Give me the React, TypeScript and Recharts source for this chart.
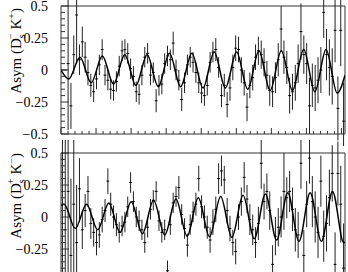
import React from 'react';
import { ComposedChart, Scatter, Line, XAxis, YAxis, ErrorBar, ReferenceArea } from 'recharts';

// ---------- axis definitions ----------
const N_BINS = 100;
const BIN_WIDTH = 0.0405;
const T_MAX = 4.05;
const binCenters = Array.from({ length: N_BINS }, (_, i) => +((i + 0.5) * BIN_WIDTH).toFixed(4));

const xTicks = [0, 0.1, 0.2, 0.3, 0.4, 0.5, 0.6, 0.7, 0.8, 0.9, 1.0, 1.1, 1.2, 1.3, 1.4, 1.5, 1.6, 1.7, 1.8, 1.9, 2.0,
  2.1, 2.2, 2.3, 2.4, 2.5, 2.6, 2.7, 2.8, 2.9, 3.0, 3.1, 3.2, 3.3, 3.4, 3.5, 3.6, 3.7, 3.8, 3.9, 4.0];
const xMajorTicks = [0, 0.5, 1.0, 1.5, 2.0, 2.5, 3.0, 3.5, 4.0];
const yTicks = [-0.5, -0.45, -0.4, -0.35, -0.3, -0.25, -0.2, -0.15, -0.1, -0.05, 0, 0.05, 0.1, 0.15, 0.2, 0.25, 0.3, 0.35, 0.4, 0.45, 0.5];
const yMajorTicks = [-0.5, -0.25, 0, 0.25, 0.5];
const yMajorLabels = ['\u22120.5', '\u22120.25', '0', '0.25', '0.5'];
// the lower panel is cropped below -0.25, so its -0.5 label lies outside the picture
const botShownLabels = [-0.25, 0, 0.25, 0.5];

// ---------- top panel: Asym(Ds- K+) ----------
const topAsym = [
  0, 0, 0.05, -0.28, 0.12, 0.43, 0.08, 0.22, 0.10, -0.02,
  -0.12, -0.17, -0.07, 0.04, 0.16, -0.04, -0.08, -0.15, -0.16, -0.09,
  0.03, 0.15, 0.16, 0.13, 0.01, -0.05, -0.17, -0.19, -0.04, 0.10,
  0.13, -0.04, -0.02, -0.24, -0.12, -0.11, 0.05, 0.11, 0.08, 0.21,
  0.00, -0.08, -0.23, -0.10, 0.04, 0.10, 0.06, -0.02, -0.10, -0.18,
  -0.20, -0.12, 0.06, 0.14, 0.16, 0.02, -0.20, -0.12, -0.27, -0.14,
  0.02, 0.17, 0.16, 0.00, -0.10, -0.29, -0.12, -0.06, 0.10, 0.15,
  0.12, 0.06, -0.04, -0.16, -0.17, -0.06, 0.08, 0.32, 0.10, 0.02,
  -0.20, -0.17, -0.10, 0.05, 0.30, 0.12, 0.05, -0.28, -0.12, -0.14,
  -0.08, 0.00, 0.45, 0.12, 0.02, -0.05, 0.31, -0.30, 0.31, -0.40,
];
const topErr = [
  0, 0, 0.52, 0.18, 0.15, 0.38, 0.12, 0.12, 0.12, 0.10,
  0.09, 0.08, 0.08, 0.08, 0.08, 0.08, 0.08, 0.08, 0.08, 0.08,
  0.08, 0.08, 0.08, 0.08, 0.08, 0.08, 0.08, 0.08, 0.08, 0.08,
  0.08, 0.08, 0.08, 0.09, 0.08, 0.08, 0.08, 0.08, 0.08, 0.09,
  0.08, 0.08, 0.09, 0.08, 0.08, 0.08, 0.08, 0.08, 0.08, 0.08,
  0.08, 0.08, 0.08, 0.08, 0.09, 0.08, 0.09, 0.09, 0.10, 0.10,
  0.10, 0.10, 0.10, 0.10, 0.10, 0.11, 0.10, 0.10, 0.10, 0.11,
  0.11, 0.11, 0.11, 0.12, 0.12, 0.12, 0.13, 0.18, 0.13, 0.13,
  0.14, 0.14, 0.14, 0.15, 0.22, 0.15, 0.16, 0.22, 0.17, 0.18,
  0.18, 0.18, 0.20, 0.20, 0.22, 0.22, 0.25, 0.25, 0.28, 0.30,
];
const topFitT = [0, 0.111, 0.271, 0.430, 0.590, 0.749, 0.909, 1.068, 1.228, 1.387, 1.547, 1.706, 1.866, 2.025,
  2.185, 2.344, 2.504, 2.663, 2.823, 2.982, 3.142, 3.301, 3.461, 3.620, 3.780, 3.939, 4.05];
const topFitY = [0, -0.07, 0.10, -0.10, 0.11, -0.11, 0.12, -0.12, 0.12, -0.13, 0.13, -0.13, 0.13, -0.14,
  0.14, -0.14, 0.14, -0.15, 0.15, -0.16, 0.15, -0.16, 0.16, -0.17, 0.16, -0.18, -0.04];

// ---------- bottom panel: Asym(Ds+ K-) ----------
const botAsym = [
  0.45, -0.10, 0.20, -0.30, 0.10, -0.20, 0.22, -0.10, 0.05, 0.20,
  -0.05, -0.12, -0.20, -0.14, -0.02, 0.05, 0.28, 0.10, 0.00, -0.06,
  -0.12, -0.07, -0.04, 0.08, 0.27, 0.12, 0.00, -0.03, -0.10, -0.20,
  -0.08, 0.06, 0.13, 0.20, -0.03, -0.12, -0.10, -0.42, -0.06, 0.11,
  0.16, 0.23, 0.02, -0.09, -0.22, -0.06, 0.04, 0.10, 0.30, 0.08,
  0.00, -0.08, -0.18, -0.04, 0.06, 0.30, 0.36, 0.29, 0.05, -0.09,
  -0.20, -0.27, 0.00, 0.12, 0.31, 0.14, -0.02, -0.10, -0.20, -0.05,
  0.42, 0.12, 0.20, 0.05, -0.37, -0.15, -0.08, 0.00, 0.20, 0.15,
  0.20, 0.06, -0.10, -0.14, 0.42, -0.30, 0.10, 0.46, 0.12, 0.00,
  -0.12, 0.28, -0.15, -0.05, 0.15, 0.34, -0.37, 0.34, 0.10, -0.40,
];
const botErr = [
  0.90, 0.80, 0.70, 0.60, 0.60, 0.45, 0.24, 0.15, 0.13, 0.12,
  0.12, 0.11, 0.10, 0.10, 0.10, 0.09, 0.10, 0.09, 0.09, 0.09,
  0.08, 0.08, 0.08, 0.08, 0.08, 0.08, 0.08, 0.08, 0.08, 0.08,
  0.08, 0.08, 0.08, 0.08, 0.08, 0.08, 0.08, 0.08, 0.08, 0.08,
  0.08, 0.09, 0.08, 0.08, 0.09, 0.08, 0.08, 0.09, 0.10, 0.09,
  0.09, 0.09, 0.10, 0.10, 0.10, 0.12, 0.12, 0.11, 0.10, 0.10,
  0.10, 0.10, 0.10, 0.11, 0.12, 0.11, 0.12, 0.12, 0.12, 0.13,
  0.20, 0.14, 0.14, 0.15, 0.15, 0.15, 0.15, 0.16, 0.30, 0.16,
  0.16, 0.17, 0.17, 0.18, 0.20, 0.20, 0.18, 0.20, 0.20, 0.20,
  0.20, 0.20, 0.20, 0.22, 0.22, 0.22, 0.25, 0.25, 0.30, 0.35,
];
const botFitT = [0, 0.044, 0.204, 0.363, 0.523, 0.682, 0.842, 1.001, 1.161, 1.320, 1.480, 1.639, 1.799, 1.958,
  2.118, 2.277, 2.437, 2.596, 2.756, 2.915, 3.075, 3.234, 3.394, 3.553, 3.713, 3.872, 4.032, 4.05];
const botFitY = [0.09, 0.10, -0.09, 0.10, -0.10, 0.11, -0.12, 0.12, -0.13, 0.13, -0.14, 0.14, -0.15, 0.15,
  -0.155, 0.16, -0.16, 0.17, -0.17, 0.18, -0.18, 0.19, -0.19, 0.19, -0.19, 0.20, -0.20, -0.20];

const FONT = 'Liberation Serif, DejaVu Serif, serif';
const AXIS_COLOR = '#333';

const isIn = (arr: number[], v: number) => arr.some((a) => Math.abs(a - v) < 1e-6);

const makeYTick = (shown: number[]) => (props: any) => {
  const { x, y, payload } = props;
  const v = payload.value;
  const mi = yMajorTicks.findIndex((a) => Math.abs(a - v) < 1e-6);
  const major = mi >= 0;
  return (
    <g>
      <line x1={x} x2={x + (major ? 8 : 4)} y1={y} y2={y} stroke={AXIS_COLOR} strokeWidth={1} />
      {major && isIn(shown, v) && (
        <text x={x - 13} y={y} dy="0.35em" textAnchor="end" style={{ fontFamily: FONT }} fontSize={14} fill="#000">
          {yMajorLabels[mi]}
        </text>
      )}
    </g>
  );
};

const XTick = (props: any) => {
  const { x, y, payload } = props;
  const major = isIn(xMajorTicks, payload.value);
  return <line x1={x} x2={x} y1={y} y2={y - (major ? 6 : 3)} stroke={AXIS_COLOR} strokeWidth={1} />;
};

const noShape = () => <g />;

type PanelProps = {
  asym: number[];
  err: number[];
  fitT: number[];
  fitY: number[];
  height: number;
  marginTop: number;
  xAxisHeight: number;
  shownLabels: number[];
};

const Panel = ({ asym, err, fitT, fitY, height, marginTop, xAxisHeight, shownLabels }: PanelProps) => {
  const points = binCenters.map((t, i) => ({ t, v: asym[i], ey: err[i], ex: BIN_WIDTH / 2 }));
  const fit = fitT.map((t, i) => ({ t, f: fitY[i] }));
  return (
    <ComposedChart width={348} height={height} margin={{ top: marginTop, right: 3, bottom: 0, left: 0 }}>
      <XAxis
        dataKey="t"
        type="number"
        domain={[0, T_MAX]}
        ticks={xTicks}
        interval={0}
        allowDataOverflow
        axisLine={false}
        tickLine={false}
        tickSize={0}
        tickMargin={0}
        height={xAxisHeight}
        tick={XTick}
      />
      <YAxis
        type="number"
        domain={[-0.5, 0.5]}
        ticks={yTicks}
        interval={0}
        allowDataOverflow
        axisLine={false}
        tickLine={false}
        tickSize={0}
        tickMargin={0}
        width={61}
        tick={makeYTick(shownLabels)}
      />
      <ReferenceArea x1={0} x2={T_MAX} y1={-0.5} y2={0.5} fill="none" fillOpacity={0} stroke={AXIS_COLOR} strokeWidth={1} ifOverflow="visible" />
      <Scatter data={points} dataKey="v" shape={noShape} isAnimationActive={false}>
        <ErrorBar dataKey="ey" direction="y" width={0} stroke="#222" strokeWidth={1} isAnimationActive={false} />
        <ErrorBar dataKey="ex" direction="x" width={0} stroke="#000" strokeWidth={1} isAnimationActive={false} />
      </Scatter>
      <Line data={fit} dataKey="f" type="monotone" stroke="#000" strokeWidth={1.5} dot={false} activeDot={false} isAnimationActive={false} />
    </ComposedChart>
  );
};

const AxisTitle = ({ top, supD, supK }: { top: number; supD: string; supK: string }) => (
  <text transform={`translate(21, ${top}) rotate(-90)`} textAnchor="end" style={{ fontFamily: FONT }} fontSize={15} fill="#000">
    Asym (D
    <tspan dy={4} fontSize={10}>s</tspan>
    <tspan dx={-4.5} dy={-11} fontSize={10}>{supD}</tspan>
    <tspan dy={7}>{'\u00a0'}K</tspan>
    <tspan dy={-6} fontSize={10}>{supK}</tspan>
    <tspan dy={6}>)</tspan>
  </text>
);

export default function App() {
  return (
    <div style={{ position: 'absolute', left: 0, top: 0, width: 348, height: 272, overflow: 'hidden', background: '#fff' }}>
      <div style={{ position: 'absolute', left: 0, top: 0 }}>
        <Panel asym={topAsym} err={topErr} fitT={topFitT} fitY={topFitY} height={146} marginTop={6} xAxisHeight={12} shownLabels={yMajorTicks} />
      </div>
      <div style={{ position: 'absolute', left: 0, top: 140 }}>
        <Panel asym={botAsym} err={botErr} fitT={botFitT} fitY={botFitY} height={150} marginTop={13} xAxisHeight={9} shownLabels={botShownLabels} />
      </div>
      <svg width={348} height={272} style={{ position: 'absolute', left: 0, top: 0, pointerEvents: 'none' }}>
        <AxisTitle top={8} supD={'\u2212'} supK="+" />
        <AxisTitle top={153} supD="+" supK={'\u2212'} />
      </svg>
    </div>
  );
}
